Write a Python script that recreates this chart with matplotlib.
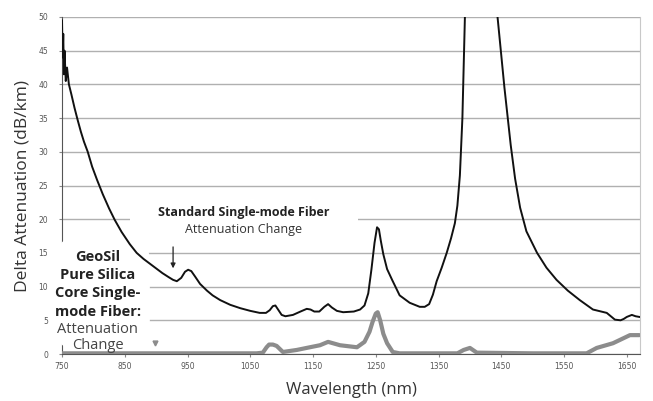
import matplotlib
matplotlib.use("Agg")
import matplotlib.pyplot as plt
from matplotlib.patches import FancyBboxPatch

# Standard single-mode fiber (black curve)
std_nm = [750, 751, 752, 753, 754, 756, 758, 761, 765, 770, 775, 780, 785, 791,
          798, 806, 815, 825, 834, 845, 858, 869, 880, 890, 900, 910, 920, 927,
          933, 940, 946, 951, 956, 962, 970, 981, 990, 1002, 1018, 1034, 1050,
          1065, 1075, 1081, 1086, 1090, 1095, 1100, 1106, 1118, 1130, 1140, 1146,
          1152, 1160, 1168, 1174, 1180, 1188, 1198, 1215, 1225, 1232, 1238, 1243,
          1248, 1252, 1255, 1258, 1262, 1268, 1276, 1288, 1304, 1320, 1328, 1335,
          1341, 1347, 1355, 1363, 1370, 1376, 1380, 1384, 1388, 1392, 1400, 1418,
          1435, 1444, 1455, 1465, 1472, 1480, 1490, 1507, 1522, 1538, 1556, 1575,
          1596, 1618, 1631, 1640, 1645, 1650, 1658, 1664, 1670]
std_val = [49.5, 44.0, 47.5, 41.5, 45.0, 40.5, 42.5, 40.0, 38.5, 36.5, 34.7, 33.0,
           31.5, 30.0, 27.8, 25.8, 23.7, 21.6, 19.9, 18.1, 16.3, 15.0, 14.1, 13.4,
           12.7, 12.0, 11.4, 11.0, 10.8, 11.3, 12.2, 12.5, 12.3, 11.5, 10.4, 9.4,
           8.7, 8.0, 7.3, 6.8, 6.4, 6.1, 6.1, 6.5, 7.1, 7.2, 6.5, 5.8, 5.6, 5.8,
           6.3, 6.7, 6.6, 6.3, 6.3, 7.0, 7.4, 6.9, 6.4, 6.2, 6.3, 6.6, 7.2, 9.0,
           12.5, 16.5, 18.8, 18.5, 16.8, 14.8, 12.6, 11.0, 8.7, 7.6, 7.0, 7.0, 7.4,
           8.8, 10.8, 12.8, 15.0, 17.2, 19.4, 22.0, 26.5, 35.0, 50.0, 65.0, 80.0,
           65.0, 50.0, 39.5, 31.0, 26.0, 21.7, 18.2, 15.0, 12.8, 11.0, 9.4, 8.0,
           6.6, 6.1, 5.1, 5.0, 5.2, 5.5, 5.8, 5.6, 5.5]

# GeoSil pure silica core fiber (gray curve)
geo_nm = [750, 900, 1060, 1070, 1076, 1080, 1086, 1092, 1102, 1124, 1145, 1161,
          1174, 1193, 1220, 1232, 1240, 1245, 1250, 1253, 1257, 1262, 1268, 1277,
          1288, 1380, 1390, 1400, 1411, 1500, 1586, 1602, 1628, 1655, 1670]
geo_val = [0.1, 0.1, 0.1, 0.2, 1.0, 1.4, 1.4, 1.2, 0.3, 0.6, 1.0, 1.3, 1.8, 1.3,
           1.0, 1.8, 3.3, 4.8, 6.0, 6.2, 5.0, 3.0, 1.6, 0.3, 0.1, 0.1, 0.6, 0.9,
           0.2, 0.1, 0.1, 0.9, 1.6, 2.8, 2.8]

x_ticks = [750, 850, 950, 1050, 1150, 1250, 1350, 1450, 1550, 1650]
y_ticks = [0, 5, 10, 15, 20, 25, 30, 35, 40, 45, 50]

fig = plt.figure(figsize=(6.53, 4.01), dpi=100)
ax = fig.add_axes([62/653, 1-354/401, (640-62)/653, (354-17)/401])

ax.set_xlim(750, 1671)
ax.set_ylim(0, 50)
ax.set_xticks(x_ticks)
ax.set_yticks(y_ticks)
ax.set_xticklabels([str(t) for t in x_ticks], fontsize=5.5, color="#555555")
ax.set_yticklabels([str(t) for t in y_ticks], fontsize=5.5, color="#555555")
ax.tick_params(axis="x", length=2, color="#888888", pad=4)
ax.tick_params(axis="y", length=2, color="#888888", pad=8)
ax.yaxis.grid(True, color="#b0b0b0", linewidth=1.0, zorder=0)
ax.set_axisbelow(True)

ax.spines["top"].set_visible(False)
ax.spines["right"].set_color("#c8c8c8")
ax.spines["left"].set_color("#555555")
ax.spines["bottom"].set_color("#555555")

# white label boxes
box1 = FancyBboxPatch((-0.012, 0.006), 0.164, 0.347,
                      boxstyle="round,pad=0,rounding_size=0.05",
                      mutation_aspect=1.6, transform=ax.transAxes, clip_on=False,
                      facecolor="white", edgecolor="none", zorder=2.7)
ax.add_patch(box1)
box2 = FancyBboxPatch((858, 16.9), 363, 5.9, boxstyle="square,pad=0",
                      facecolor="white", edgecolor="none", zorder=1)
ax.add_patch(box2)

ax.plot(geo_nm, geo_val, color="#8c8c8c", linewidth=3.0, zorder=3,
        solid_capstyle="round", solid_joinstyle="round")
ax.plot(std_nm, std_val, color="#111111", linewidth=1.4, zorder=4,
        solid_joinstyle="round")

fam = ["Open Sans", "DejaVu Sans"]
ax.text(1040, 21.0, "Standard Single-mode Fiber", ha="center", va="center",
        fontsize=9, fontweight="bold", color="#222222", family=fam, zorder=5)
ax.text(1040, 18.5, "Attenuation Change", ha="center", va="center",
        fontsize=9, color="#333333", family=fam, zorder=5)
ax.annotate("", xy=(927, 12.3), xytext=(927, 16.3),
            arrowprops=dict(arrowstyle="-|>", color="#222222", lw=0.9,
                            mutation_scale=7), zorder=5)

geo_lines = [("GeoSil", "bold", 14.4), ("Pure Silica", "bold", 11.7),
             ("Core Single-", "bold", 9.0), ("mode Fiber:", "bold", 6.3),
             ("Attenuation", "normal", 3.6), ("Change", "normal", 1.3)]
for txt, w, yy in geo_lines:
    ax.text(807, yy, txt, ha="center", va="center", fontsize=10.5, fontweight=w,
            color="#222222" if w == "bold" else "#444444", family=fam, zorder=5)
ax.plot([898], [1.6], marker="v", markersize=3.5, color="#8c8c8c", zorder=5)

ax.set_xlabel("Wavelength (nm)", fontsize=12, color="#333333", family=fam, labelpad=8)
ax.set_ylabel("Delta Attenuation (dB/km)", fontsize=12.5, color="#333333", family=fam,
              labelpad=6)

fig.savefig("out.png", dpi=100)
